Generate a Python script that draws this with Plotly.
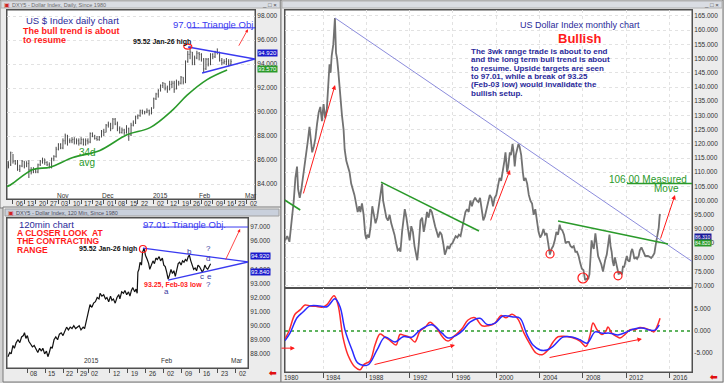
import plotly.graph_objects as go

W, H = 724, 383
FONT = "Liberation Sans, Arial, sans-serif"
BLUE_TXT = "#2a2a9a"
RED = "#ff1a1a"
GREEN = "#2a9a2a"
TRI_BLUE = "#3a3af0"


def px(x):
    return x / W


def py(y):
    return 1 - y / H


# ---------------- daily chart data (trading days Oct-02-2014 .. Feb-19-2015) ----------------
daily_high = [85.9, 86.7, 86.5, 86.0, 86.0, 85.6, 86.0, 85.9, 85.9, 86.0, 85.4, 85.4, 85.3, 85.7, 86.0, 86.2, 86.1, 85.9, 85.8, 86.2, 86.4, 87.1,
              87.4, 87.4, 87.8, 88.2, 88.1, 87.8, 87.9, 87.9, 87.8, 87.8, 87.9, 87.8, 87.8, 87.8, 88.3, 88.3, 88.1, 88.0, 88.0, 88.5,
              88.6, 89.0, 89.2, 89.1, 89.5, 89.5, 89.2, 88.8, 88.7, 88.6, 88.9, 88.7, 89.1, 89.3, 89.7, 89.8, 90.2, 90.2, 90.1, 90.3, 90.2, 90.4,
              91.2, 91.6, 91.9, 92.3, 92.5, 92.4, 92.2, 92.6, 92.6, 92.6, 92.7, 92.6, 93.0, 92.9, 94.3, 95.1, 95.52, 95.0, 94.7, 95.1, 95.0,
              94.9, 94.5, 94.5, 94.5, 94.9, 94.9, 95.1, 95.3, 95.0, 94.5, 94.4, 94.5, 94.4, 94.4]
daily_low = [85.3, 85.5, 85.7, 85.6, 85.1, 85.0, 85.4, 85.3, 85.4, 84.5, 84.8, 84.9, 84.9, 84.9, 85.5, 85.7, 85.6, 85.5, 85.3, 85.3, 85.9, 86.2,
             86.8, 86.9, 86.9, 87.3, 87.2, 87.4, 87.4, 87.3, 87.3, 87.2, 87.3, 87.2, 87.2, 87.3, 87.4, 87.9, 87.7, 87.6, 87.6, 87.9,
             88.0, 88.3, 88.7, 88.4, 88.6, 88.9, 88.4, 88.2, 88.2, 88.1, 88.2, 87.6, 88.0, 88.8, 89.0, 89.4, 89.6, 89.8, 89.8, 89.9, 89.7, 89.8,
             90.3, 91.0, 91.2, 91.7, 92.0, 91.8, 91.6, 91.8, 92.0, 91.6, 91.9, 92.2, 92.3, 92.3, 92.4, 94.1, 94.4, 93.9, 93.9, 94.4, 94.3,
             94.2, 93.25, 93.5, 93.8, 93.9, 94.4, 94.5, 94.8, 94.2, 93.9, 94.0, 93.9, 93.8, 93.9]
daily_close = [85.6, 86.6, 85.9, 85.7, 85.2, 85.5, 85.9, 85.5, 85.7, 85.2, 85.0, 85.2, 85.0, 85.6, 85.9, 86.1, 85.8, 85.6, 85.4, 86.1, 86.3, 86.9,
               87.3, 87.0, 87.6, 88.0, 87.6, 87.6, 87.7, 87.5, 87.6, 87.4, 87.7, 87.3, 87.6, 87.5, 88.2, 88.0, 87.8, 87.7, 87.9, 88.4,
               88.3, 88.9, 89.0, 88.6, 89.4, 89.0, 88.6, 88.3, 88.5, 88.3, 88.6, 88.1, 88.9, 89.1, 89.6, 89.7, 90.1, 90.0, 90.0, 90.1, 89.9, 90.3,
               91.1, 91.5, 91.8, 92.2, 92.4, 92.0, 91.9, 92.3, 92.4, 91.9, 92.5, 92.4, 92.9, 92.5, 94.2, 94.8, 95.0, 94.1, 94.5, 94.9, 94.8,
               94.4, 93.6, 94.4, 94.0, 94.8, 94.6, 95.0, 95.0, 94.3, 94.1, 94.2, 94.2, 94.0, 94.2]
daily_open = [85.5] + daily_close[:-1]
daily_pos = list(range(1, len(daily_close) + 1))

# 34-day average (trading-day position, value)
ma_pos = [0.4, 1.7, 11.8, 19.3, 29.4, 41.3, 53.2, 63.4, 73.5, 79.7, 88.5, 97.3]
ma_val = [83.8, 83.9, 85.2, 85.4, 86.2, 86.8, 88.1, 88.7, 90.2, 91.4, 92.7, 93.5]

daily_tick_pos = [3, 8, 13, 18, 23, 28, 33, 38, 43, 48, 53, 58, 65, 71, 76, 81, 86, 91, 96, 101, 106]
daily_tick_txt = ["06", "13", "20", "27", "03", "10", "17", "24", "01", "08", "15", "22", "02", "12", "19", "26", "02", "09", "16", "23", "02"]
daily_months = ["Nov", "Dec", "2015", "Feb", "Mar"]
daily_month_pos = [25.2, 44.8, 67.8, 87.6, 108.0]

# ---------------- 120 min chart data (trading-day position Dec-01 = 0) ----------------
m120_pos = [-0.3, 0.2, 0.6, 1.1, 1.5, 2.0, 2.5, 3.0, 3.5, 4.0, 4.3, 4.7, 5.1, 5.5, 6.0, 6.5, 7.0, 7.5, 8.0, 8.5, 9.0, 9.4, 9.9,
            10.4, 10.8, 11.2, 11.6, 12.0, 12.5, 13.0, 13.5, 14.0, 14.5, 15.0, 15.5, 16.0, 16.5, 17.0, 17.5, 18.0, 18.5, 19.0,
            19.5, 20.0, 20.6, 21.0, 21.5, 22.0, 22.5, 23.0, 23.5, 24.0, 24.5, 25.0, 25.3, 25.8, 26.3, 26.8, 27.2, 27.7, 28.2,
            28.6, 29.0, 29.5, 30.0, 30.5, 30.8, 31.3, 31.8, 32.2, 32.7, 33.2, 33.6, 34.0, 34.4, 34.9, 35.3, 35.6, 35.8, 36.1,
            36.4, 36.8, 37.1, 37.5, 37.9, 38.4, 38.8, 39.1, 39.5, 40.0, 40.4, 40.8, 41.2, 41.7, 42.1, 42.6, 43.0, 43.4, 43.8,
            44.2, 44.6, 45.0, 45.4, 45.8, 46.2, 46.6, 47.0, 47.4, 47.8, 48.2, 48.6, 49.0, 49.4, 49.8, 50.1, 50.5, 50.9, 51.3,
            51.7, 52.1, 52.5, 52.9, 53.3, 53.7, 54.1, 54.4, 54.8, 55.2, 55.6, 56.0]
m120_val = [87.8, 88.1, 88.0, 88.6, 88.4, 88.8, 89.0, 88.8, 89.2, 89.3, 89.5, 89.1, 89.3, 88.9, 88.7, 88.5, 88.6, 88.3, 88.1, 88.4, 88.2, 88.4, 88.0,
            88.2, 87.8, 88.1, 88.5, 88.4, 89.0, 89.2, 89.0, 89.4, 89.5, 89.3, 89.6, 89.9, 89.7, 89.9, 89.8, 90.0, 89.8, 89.9,
            90.0, 89.7, 89.9, 89.8, 90.3, 90.9, 91.5, 91.3, 91.6, 91.7, 92.0, 91.9, 92.3, 92.1, 92.2, 91.9, 92.0, 91.7, 92.1,
            91.8, 91.9, 91.6, 92.0, 92.2, 91.9, 92.4, 92.3, 92.5, 92.2, 92.4, 92.1, 92.5, 92.7, 92.4, 92.6, 92.3, 93.8, 94.0,
            94.5, 94.3, 95.2, 95.5, 95.0, 94.7, 94.4, 94.0, 94.3, 94.6, 94.4, 94.8, 94.7, 94.9, 94.6, 94.8, 94.3, 94.2, 93.8,
            93.3, 93.6, 94.0, 93.7, 93.9, 93.5, 94.0, 94.4, 94.5, 94.3, 94.6, 94.5, 94.7, 94.6, 94.9, 95.0, 94.6, 94.2, 94.0,
            94.1, 93.9, 94.3, 94.2, 94.0, 93.8, 94.0, 94.3, 94.1, 94.0, 94.2, 94.4]
m120_tick_pos = [5, 10, 15, 19, 22, 28, 33, 38, 43, 48, 53, 58, 63]
m120_tick_txt = ["08", "15", "22", "29", "02", "12", "19", "26", "02", "09", "16", "23", "02"]
m120_months = ["2015", "Feb", "Mar"]
m120_month_pos = [22.8, 43.9, 63.2]

# ---------------- monthly chart data ----------------
mon_year = [1980.5, 1980.7, 1980.9, 1981.0, 1981.15, 1981.3, 1981.45, 1981.6, 1981.7, 1981.85, 1982.0, 1982.15, 1982.3, 1982.45,
            1982.6, 1982.75, 1982.9, 1983.0, 1983.15, 1983.3, 1983.45, 1983.6, 1983.75, 1983.9, 1984.05, 1984.2, 1984.35, 1984.5,
            1984.6, 1984.7, 1984.8, 1984.95, 1985.1, 1985.2, 1985.3, 1985.4, 1985.5, 1985.6, 1985.75, 1985.9, 1986.0, 1986.15,
            1986.3, 1986.45, 1986.6, 1986.75, 1986.9, 1987.05, 1987.2, 1987.35, 1987.45, 1987.6, 1987.75, 1987.9, 1988.0, 1988.1,
            1988.25, 1988.4, 1988.55, 1988.7, 1988.85, 1989.0, 1989.2, 1989.35, 1989.45, 1989.55, 1989.7, 1989.85, 1990.0, 1990.15,
            1990.3, 1990.45, 1990.6, 1990.75, 1990.9, 1991.05, 1991.15, 1991.3, 1991.45, 1991.55, 1991.7, 1991.85, 1992.0, 1992.15,
            1992.3, 1992.45, 1992.6, 1992.7, 1992.85, 1993.0, 1993.15, 1993.3, 1993.45, 1993.6, 1993.75, 1993.9, 1994.05, 1994.2,
            1994.35, 1994.5, 1994.65, 1994.8, 1994.95, 1995.1, 1995.25, 1995.35, 1995.5, 1995.65, 1995.8, 1995.95, 1996.1, 1996.25,
            1996.4, 1996.55, 1996.7, 1996.85, 1997.0, 1997.15, 1997.3, 1997.45, 1997.6, 1997.75, 1997.9, 1998.05, 1998.2, 1998.35,
            1998.5, 1998.65, 1998.8, 1998.95, 1999.1, 1999.25, 1999.4, 1999.55, 1999.7, 1999.85, 2000.0, 2000.15, 2000.3, 2000.45,
            2000.6, 2000.75, 2000.85, 2001.0, 2001.1, 2001.25, 2001.35, 2001.5, 2001.6, 2001.7, 2001.8, 2001.95, 2002.05, 2002.15,
            2002.3, 2002.45, 2002.55, 2002.7, 2002.85, 2003.0, 2003.15, 2003.3, 2003.45, 2003.6, 2003.75, 2003.9, 2004.05, 2004.2,
            2004.35, 2004.5, 2004.65, 2004.8, 2004.95, 2005.1, 2005.25, 2005.4, 2005.55, 2005.7, 2005.85, 2005.95, 2006.1, 2006.25,
            2006.4, 2006.55, 2006.7, 2006.85, 2007.0, 2007.15, 2007.3, 2007.45, 2007.6, 2007.75, 2007.9, 2008.05, 2008.2, 2008.35,
            2008.5, 2008.6, 2008.7, 2008.8, 2008.9, 2009.0, 2009.15, 2009.25, 2009.4, 2009.55, 2009.7, 2009.85, 2009.95, 2010.05,
            2010.2, 2010.35, 2010.45, 2010.55, 2010.65, 2010.75, 2010.85, 2010.95, 2011.05, 2011.2, 2011.3, 2011.4, 2011.5, 2011.6,
            2011.7, 2011.8, 2011.95, 2012.05, 2012.15, 2012.3, 2012.45, 2012.55, 2012.65, 2012.75, 2012.9, 2013.0, 2013.15, 2013.25,
            2013.4, 2013.5, 2013.65, 2013.75, 2013.9, 2014.0, 2014.15, 2014.3, 2014.45, 2014.6, 2014.7, 2014.8, 2014.9, 2015.0,
            2015.08, 2015.12]
mon_value = [86.0, 87.5, 85.5, 89.0, 93.0, 100.0, 108.0, 112.0, 104.0, 101.0, 104.0, 108.0, 112.0, 116.0,
             121.0, 126.0, 120.0, 117.0, 119.0, 122.0, 127.0, 131.0, 133.0, 128.0, 134.0, 129.0, 132.0, 142.0,
             148.0, 145.0, 151.0, 155.0, 164.3, 152.0, 150.0, 146.0, 141.0, 137.0, 130.0, 125.0, 118.0, 114.0,
             112.0, 110.0, 106.0, 104.0, 102.0, 99.0, 96.0, 98.0, 96.0, 99.0, 95.0, 88.0, 86.5, 88.0,
             87.0, 91.0, 98.0, 95.0, 92.0, 94.0, 99.0, 104.0, 106.0, 100.0, 97.0, 94.0, 93.0, 95.0,
             92.0, 90.0, 88.0, 85.0, 82.5, 83.0, 82.0, 89.0, 95.0, 97.0, 94.0, 90.0, 86.0, 91.0,
             89.0, 84.0, 80.0, 79.0, 85.0, 93.0, 94.0, 89.0, 92.0, 96.0, 94.0, 97.0, 96.0, 93.0,
             91.0, 89.0, 87.0, 89.0, 88.0, 85.0, 81.0, 82.0, 84.0, 83.0, 84.5, 85.0, 86.0, 87.5,
             87.0, 88.0, 87.5, 90.0, 93.0, 96.0, 97.0, 96.0, 100.0, 98.0, 100.0, 101.0, 100.0, 99.5,
             101.0, 97.0, 93.0, 94.5, 97.0, 100.0, 102.0, 101.0, 98.0, 101.0, 102.0, 105.0, 108.0, 107.0,
             110.0, 114.0, 117.0, 110.0, 112.0, 117.0, 116.0, 120.0, 117.0, 112.0, 116.0, 118.0, 120.0, 119.0,
             116.0, 110.0, 107.0, 108.0, 106.0, 102.0, 100.0, 99.0, 95.0, 97.0, 93.0, 89.0, 87.0, 88.0,
             90.0, 88.0, 88.5, 84.0, 81.0, 83.0, 84.0, 86.0, 89.0, 88.0, 91.5, 90.0, 89.5, 88.0,
             85.0, 85.5, 85.5, 84.0, 83.5, 84.0, 82.0, 82.0, 80.5, 78.0, 76.0, 75.5, 72.0, 72.5,
             72.5, 74.0, 79.0, 86.0, 84.0, 83.0, 88.5, 85.0, 80.5, 79.0, 77.5, 75.0, 77.5, 79.0,
             81.0, 85.0, 88.0, 84.0, 82.0, 78.5, 77.0, 80.0, 78.5, 76.0, 74.0, 75.0, 74.5, 74.0,
             77.0, 76.5, 79.0, 80.5, 79.0, 78.5, 82.0, 83.0, 81.5, 79.5, 80.0, 79.5, 80.5, 82.5,
             83.5, 82.5, 81.5, 80.5, 80.5, 80.5, 80.2, 79.8, 80.5, 81.5, 84.0, 86.0, 88.0, 90.5,
             94.5, 95.3]

osc_blue_year = [1980.49, 1980.95, 1981.6, 1982.15, 1982.8, 1983.72, 1984.37, 1985.1, 1985.57, 1986.03, 1986.68, 1987.23, 1988.15,
                 1988.99, 1989.72, 1990.65, 1991.39, 1992.22, 1992.96, 1994.06, 1994.99, 1995.54, 1996.37, 1996.93, 1997.57, 1998.5,
                 1999.14, 1999.88, 2000.62, 2001.54, 2002.19, 2002.84, 2003.39, 2004.04, 2004.68, 2005.24, 2006.16, 2007.08, 2007.73,
                 2008.38, 2009.12, 2009.76, 2010.5, 2011.24, 2012.07, 2012.62, 2013.45, 2014.19, 2014.65, 2015.05]
osc_blue_val = [-2.2, -0.5, 3.0, 4.3, 5.7, 5.7, 5.5, 7.3, 5.5, 0.2, -4.3, -7.3, -7.7,
                -4.3, -1.4, -2.5, -1.3, -1.4, 0.2, 1.4, -0.5, -1.6, -0.9, 0.2, 2.0, 2.9,
                1.5, 1.8, 3.4, 3.2, 2.9, -0.9, -3.2, -4.3, -4.3, -3.5, -1.4, -1.4, -2.0,
                -2.8, -0.2, -0.5, -0.5, -0.9, -0.2, 0.4, 0.7, 0.2, 0.2, 1.4]
osc_red_year = [1980.49, 1980.86, 1981.41, 1981.88, 1982.34, 1982.8, 1983.35, 1983.9, 1984.37, 1985.02, 1985.38, 1985.85, 1986.31,
                1986.95, 1987.42, 1987.79, 1988.34, 1988.8, 1989.26, 1989.63, 1990.19, 1990.74, 1991.11, 1991.48, 1992.03, 1992.49,
                1992.96, 1993.42, 1993.88, 1994.53, 1995.08, 1995.54, 1996.19, 1996.83, 1997.39, 1998.03, 1998.68, 1999.24, 1999.88,
                2000.44, 2000.9, 2001.45, 2002.0, 2002.56, 2003.11, 2003.67, 2004.22, 2004.78, 2005.24, 2005.7, 2006.26, 2006.99,
                2007.73, 2008.28, 2008.65, 2008.93, 2009.3, 2009.76, 2010.13, 2010.31, 2010.68, 2011.15, 2011.42, 2011.88, 2012.35,
                2012.81, 2013.27, 2013.73, 2014.19, 2014.56, 2014.84, 2015.12]
osc_red_val = [-1.8, 0.0, 3.8, 4.8, 5.9, 5.7, 5.6, 5.4, 6.0, 8.0, 6.0, -1.5, -5.5,
               -8.2, -8.8, -7.6, -6.8, -3.2, -0.7, -1.2, -2.2, -3.2, -0.8, -1.0, -1.5, -2.5,
               0.0, 0.8, 2.0, 0.5, -1.5, -2.3, -1.0, 0.5, 2.5, 3.0, 1.2, 1.2, 1.8,
               3.5, 3.0, 3.8, 2.7, -0.5, -3.0, -5.0, -5.4, -4.3, -2.5, -1.3, -1.2, -1.5,
               -2.3, -3.5, -1.0, 1.8, 0.3, -0.8, 0.0, 0.9, -0.5, -1.3, -1.6, -0.8, 0.3,
               0.3, 0.8, 0.6, 0.2, -0.2, 1.0, 2.9]

year_ticks = [1984, 1988, 1992, 1996, 2000, 2004, 2008, 2012, 2016]
mon_price_ticks = [70, 75, 80, 85, 90, 95, 100, 105, 110, 115, 120, 125, 130, 135, 140, 145, 150, 155, 160, 165]
osc_ticks = [-5, 0, 5]

fig = go.Figure()

# daily bars + average
fig.add_trace(go.Ohlc(x=daily_pos, open=daily_open, high=daily_high, low=daily_low, close=daily_close,
                      xaxis="x", yaxis="y", increasing_line_color="#4a4a4a", decreasing_line_color="#4a4a4a",
                      line_width=1, tickwidth=0.25, showlegend=False, hoverinfo="skip"))
fig.add_trace(go.Scatter(x=ma_pos, y=ma_val, mode="lines", line=dict(color=GREEN, width=1.6, shape="spline"),
                         xaxis="x", yaxis="y", showlegend=False, hoverinfo="skip"))
# 120 min
fig.add_trace(go.Scatter(x=m120_pos, y=m120_val, mode="lines", line=dict(color="#111111", width=1.2),
                         xaxis="x2", yaxis="y2", showlegend=False, hoverinfo="skip"))
# monthly
fig.add_trace(go.Scatter(x=mon_year, y=mon_value, mode="lines", line=dict(color="#727272", width=1.8),
                         xaxis="x3", yaxis="y3", showlegend=False, hoverinfo="skip"))
# oscillator
fig.add_trace(go.Scatter(x=[1980.49, 2018.07], y=[0, 0], mode="lines", line=dict(color=GREEN, width=1.6, dash="dot"),
                         xaxis="x4", yaxis="y4", showlegend=False, hoverinfo="skip"))
fig.add_trace(go.Scatter(x=osc_red_year, y=osc_red_val, mode="lines", line=dict(color="#ff2a2a", width=1.5, shape="spline"),
                         xaxis="x4", yaxis="y4", showlegend=False, hoverinfo="skip"))
fig.add_trace(go.Scatter(x=osc_blue_year, y=osc_blue_val, mode="lines", line=dict(color="#2a2aff", width=1.5, shape="spline"),
                         xaxis="x4", yaxis="y4", showlegend=False, hoverinfo="skip"))

AX = dict(showline=True, mirror=True, linecolor="#505050", linewidth=1, zeroline=False,
          tickfont=dict(size=6.5, color="#333333", family=FONT), fixedrange=True)
GRID = dict(showgrid=True, gridcolor="#e2e2e2", griddash="dot", gridwidth=1)

fig.update_layout(
    width=W, height=H, margin=dict(l=0, r=0, t=0, b=0),
    paper_bgcolor="#d3d3d3", plot_bgcolor="#ffffff", font=dict(family=FONT),
    xaxis=dict(domain=[px(7), px(255)], range=[0.36, 109.6], anchor="y", tickvals=daily_tick_pos,
               showticklabels=False, ticks="outside", ticklen=4, tickcolor="#505050",
               rangeslider=dict(visible=False), showgrid=False, **AX),
    yaxis=dict(domain=[py(199), py(10)], range=[82.75, 98.5], anchor="x", side="right",
               tickvals=[84, 86, 88, 90, 92, 94, 96, 98], tickformat=".3f", ticks="", **GRID, **AX),
    xaxis2=dict(domain=[px(7), px(248)], range=[-0.556, 66.39], anchor="y2", tickvals=m120_tick_pos,
                showticklabels=False, ticks="outside", ticklen=4, tickcolor="#505050",
                showgrid=False, **AX),
    yaxis2=dict(domain=[py(368), py(218)], range=[87.0, 97.64], anchor="x2", side="right",
                tickvals=[88, 89, 90, 91, 92, 93, 94, 95, 96, 97], tickformat=".3f", ticks="", showgrid=False, **AX),
    xaxis3=dict(domain=[px(285), px(692)], range=[1980.49, 2018.07], anchor="y3", showticklabels=False,
                ticks="", tickvals=year_ticks, **GRID, **AX),
    yaxis3=dict(domain=[py(288), py(10)], range=[69.23, 167.11], anchor="x3", side="right",
                tickvals=mon_price_ticks, tickformat=".3f", ticks="", **GRID, **AX),
    xaxis4=dict(domain=[px(285), px(692)], range=[1980.49, 2018.07], anchor="y4", matches="x3",
                tickvals=year_ticks, showticklabels=False, ticks="outside", ticklen=5,
                tickcolor="#505050", **GRID, **AX),
    yaxis4=dict(domain=[py(372), py(288)], range=[-9.32, 9.77], anchor="x4", side="right",
                tickvals=osc_ticks, ticktext=["-5.000", "0.000", "5.000"], ticks="", showgrid=False, **AX),
)

shapes = []
annos = []


def rect(x0, y0, x1, y1, fill, line="#7a7a7a", lw=1):
    shapes.append(dict(type="rect", xref="paper", yref="paper", x0=px(x0), x1=px(x1), y0=py(y1), y1=py(y0),
                       fillcolor=fill, line=dict(color=line, width=lw), layer="below"))


def text(x, y, s, size, color, xanchor="left", bg=None, bold=False):
    if bold:
        s = "<b>" + s + "</b>"
    a = dict(xref="paper", yref="paper", x=px(x), y=py(y), text=s, showarrow=False, xanchor=xanchor,
             yanchor="middle", font=dict(size=size, color=color, family=FONT), borderpad=0)
    if bg:
        a["bgcolor"] = bg
    annos.append(a)


def xlabels(axref, positions, labels, ypix, shift):
    for p, s in zip(positions, labels):
        annos.append(dict(xref=axref, yref="paper", x=p, y=py(ypix), text=s, showarrow=False, xanchor="left",
                          yanchor="middle", xshift=shift, font=dict(size=6.5, color="#333333", family=FONT)))


# window frames
rect(0, 0, 281, 208, "#ececec")
rect(1, 1, 280, 8, "#dadde3", line="#b0b0b0")
rect(3, 207, 281, 382, "#ececec")
rect(5, 209, 279, 216, "#c9d0dc", line="#a0a0a0")
rect(281, 0, 723, 382, "#ececec")
rect(282, 1, 722, 8, "#dadde3", line="#b0b0b0")
# plot backgrounds
for (a, b, c, d) in [(7, 10, 255, 199), (7, 218, 248, 368), (285, 10, 692, 288), (285, 288, 692, 372)]:
    rect(a, b, c, d, "#ffffff", line="#505050")

text(3, 4.5, "▣", 6, "#d02020")
text(11, 4.5, "DXY5 - Dollar Index, Daily, Since 1980", 5.5, "#6a6a6a")
text(278, 4.5, "_ □ ×", 6, "#444444", xanchor="right")
text(7, 212.5, "▣", 6, "#d02020")
text(15, 212.5, "DXY5 - Dollar Index, 120 Min, Since 1980", 5.5, "#4a4a5a")
text(720, 4.5, "_ □ ×", 6, "#444444", xanchor="right")

# x-axis date labels
xlabels("x", daily_tick_pos, daily_tick_txt, 203.5, 1)
xlabels("x2", m120_tick_pos, m120_tick_txt, 373, 1)
xlabels("x4", year_ticks, [str(v) for v in year_ticks], 377.5, 1)
text(283, 377.5, "1980", 6.5, "#333333")

# ---------- daily annotations ----------
text(25, 20, "US $ Index daily chart", 9.5, BLUE_TXT)
text(22, 30.5, "The bull trend is about", 9, RED, bold=True)
text(22, 39.5, "to resume", 9, RED, bold=True)
text(132, 42, "95.52 Jan-26 high", 7, "#111111", bold=True)
text(172, 24.5, "97.01: Triangle Obj.", 9.5, TRI_BLUE)
text(78, 152, "34d", 10, GREEN)
text(78, 162, "avg", 10, GREEN)
for s, p in zip(daily_months, daily_month_pos):
    annos.append(dict(xref="x", yref="paper", x=p, y=py(195.5), text=s, showarrow=False,
                      font=dict(size=6.5, color="#333333", family=FONT)))
text(257, 53, "94.920", 6, "#ffffff", bg="#1a1acc")
text(257, 69, "93.570", 6, "#ffffff", bg="#2a9a2a")

shapes += [
    dict(type="line", xref="x", yref="y", x0=80.1, y0=95.42, x1=109.6, y1=94.42, line=dict(color=TRI_BLUE, width=1.5)),
    dict(type="line", xref="x", yref="y", x0=86.3, y0=93.25, x1=109.6, y1=94.42, line=dict(color=TRI_BLUE, width=1.5)),
    dict(type="line", xref="x", yref="y", x0=80.1, y0=97.01, x1=109.6, y1=97.01, line=dict(color=TRI_BLUE, width=1)),
    dict(type="circle", xref="x", yref="y", xsizemode="pixel", ysizemode="pixel", xanchor=80.0, yanchor=95.45,
         x0=-4, x1=4, y0=-2.5, y1=2.5, line=dict(color=RED, width=1.2)),
]
annos.append(dict(xref="x", yref="y", axref="x", ayref="y", x=106.5, y=96.9, ax=102.1, ay=95.4, showarrow=True,
                  arrowhead=2, arrowsize=0.8, arrowwidth=0.8, arrowcolor=RED, text=""))

# ---------- 120 min annotations ----------
text(18, 224, "120min chart", 9.5, BLUE_TXT)
text(16, 232.5, "A CLOSER LOOK  AT", 8.5, RED, bold=True)
text(16, 241, "THE CONTRACTING", 8.5, RED, bold=True)
text(16, 249.5, "RANGE", 8.5, RED, bold=True)
text(78, 248.5, "95.52 Jan-26 high", 7, "#111111", bold=True)
text(142, 224, "97.01: Triangle Obj.", 9.5, TRI_BLUE)
text(143, 284.5, "93.25, Feb-03 low", 7, RED, bold=True)
for s, x, y in [("b", 189, 251), ("?", 208, 248), ("d", 208, 258), ("c", 202, 276), ("e", 209, 276),
                ("?", 208, 284), ("a", 166, 291.5)]:
    text(x, y, s, 8, "#3a3aa0", xanchor="center")
for s, p in zip(m120_months, m120_month_pos):
    annos.append(dict(xref="x2", yref="paper", x=p, y=py(365.5), text=s, showarrow=False,
                      font=dict(size=6.5, color="#333333", family=FONT)))
text(250, 256, "94.920", 6, "#ffffff", bg="#1a1acc")
text(250, 272, "93.840", 6, "#ffffff", bg="#1a1acc")

shapes += [
    dict(type="line", xref="x2", yref="y2", x0=37.2, y0=95.51, x1=66.4, y1=94.52, line=dict(color=TRI_BLUE, width=1.3)),
    dict(type="line", xref="x2", yref="y2", x0=44.2, y0=93.24, x1=66.4, y1=94.52, line=dict(color=TRI_BLUE, width=1.3)),
    dict(type="line", xref="x2", yref="y2", x0=37.2, y0=97.0, x1=66.4, y1=97.0, line=dict(color=TRI_BLUE, width=1)),
    dict(type="circle", xref="x2", yref="y2", xsizemode="pixel", ysizemode="pixel", xanchor=37.2, yanchor=95.44,
         x0=-3.5, x1=3.5, y0=-3.5, y1=3.5, line=dict(color=RED, width=1.2)),
]
annos.append(dict(xref="x2", yref="y2", axref="x2", ayref="y2", x=64.2, y=96.86, ax=60.0, ay=94.59, showarrow=True,
                  arrowhead=2, arrowsize=0.8, arrowwidth=0.8, arrowcolor=RED, text=""))

# ---------- monthly annotations ----------
text(579.5, 25, "US Dollar Index monthly chart", 9, BLUE_TXT, xanchor="center")
text(579.5, 39, "Bullish", 13, RED, xanchor="center", bold=True)
para = ["The 3wk range trade is about to end", "and the long term bull trend is about",
        "to resume. Upside targets are seen", "to 97.01, while a break of 93.25",
        "(Feb-03 low) would invalidate the", "bullish setup."]
for i, line in enumerate(para):
    text(470, 51.5 + i * 8.3, line, 8, "#2a2a9a", bold=True)
text(608, 179.5, "106.00 Measured", 10, GREEN)
text(680, 188.5, "Move", 10, GREEN, xanchor="right")
text(694, 237.4, "86.310", 5, "#ffffff", bg="#1a1a99")
text(694, 243.4, "84.820", 5, "#ffffff", bg="#2a9a2a")
text(713, 377, "<b>⬅</b>", 9, "#e01010", xanchor="center")
text(272, 373, "<b>⬅</b>", 9, "#e01010", xanchor="center")

shapes += [
    dict(type="line", xref="x3", yref="y3", x0=1985.11, y0=164.3, x1=2018.07, y1=78.6, line=dict(color="#8c8cdc", width=1)),
    dict(type="line", xref="x3", yref="y3", x0=1980.45, y0=100.2, x1=1981.9, y1=96.7, line=dict(color=GREEN, width=1.6)),
    dict(type="line", xref="x3", yref="y3", x0=1989.36, y0=106.5, x1=1998.4, y1=89.3, line=dict(color=GREEN, width=1.6)),
    dict(type="line", xref="x3", yref="y3", x0=2005.7, y0=92.8, x1=2015.86, y1=84.7, line=dict(color=GREEN, width=1.6)),
    dict(type="line", xref="x3", yref="y3", x0=2012.07, y0=106.0, x1=2018.07, y1=106.0, line=dict(color=GREEN, width=1.6)),
]
for (cx, cy, r) in [(2004.96, 81.2, 4), (2008.0, 72.75, 5), (2011.24, 73.5, 4)]:
    shapes.append(dict(type="circle", xref="x3", yref="y3", xsizemode="pixel", ysizemode="pixel", xanchor=cx,
                       yanchor=cy, x0=-r, x1=r, y0=-r, y1=r, line=dict(color=RED, width=1.2)))
for (tx, ty, hx, hy) in [(1982.15, 102.0, 1985.11, 140.7), (1999.42, 92.5, 2001.27, 110.8), (2015.12, 86.1, 2016.5, 102.0)]:
    annos.append(dict(xref="x3", yref="y3", axref="x3", ayref="y3", x=hx, y=hy, ax=tx, ay=ty, showarrow=True,
                      arrowhead=2, arrowsize=0.9, arrowwidth=1, arrowcolor=RED, text=""))
for (tx, ty, hx, hy) in [(1980.03, -3.9, 1981.4, -3.9), (1988.62, -7.7, 1996.19, -3.2), (2004.78, -6.1, 2013.45, -1.8)]:
    annos.append(dict(xref="x4", yref="y4", axref="x4", ayref="y4", x=hx, y=hy, ax=tx, ay=ty, showarrow=True,
                      arrowhead=2, arrowsize=0.9, arrowwidth=1, arrowcolor=RED, text=""))

fig.update_layout(shapes=shapes, annotations=annos)
fig.write_html("out.html", config={"displayModeBar": False},
               post_script="document.body.style.margin='0px';document.body.style.overflow='hidden';")
